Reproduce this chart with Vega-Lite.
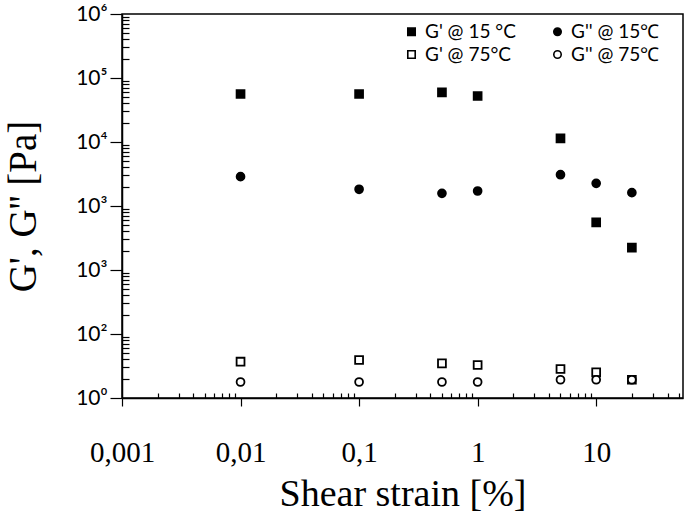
{
  "$schema": "https://vega.github.io/schema/vega-lite/v6.json",
  "width": 561,
  "height": 384,
  "autosize": {"type": "none"},
  "padding": {"left": 122, "top": 14, "right": 2, "bottom": 121},
  "background": "white",
  "config": {
    "view": {"stroke": "black", "strokeWidth": 1.5},
    "axis": {"domainColor": "black", "domainWidth": 1.5, "tickColor": "black", "tickWidth": 1.2, "grid": false, "labelColor": "black", "titleColor": "black"},
    "legend": {
      "title": null, "orient": "none", "legendX": 280, "legendY": 8, "columns": 2, "direction": "horizontal",
      "columnPadding": 32, "rowPadding": 3, "labelFont": "Lato", "labelFontSize": 19, "labelColor": "black",
      "symbolSize": 55, "symbolStrokeColor": "black", "symbolStrokeWidth": 1.6, "labelOffset": 4
    }
  },
  "data": {
    "values": [
      {"strain": 0.01, "G": 56200, "series": "G' @ 15 °C"},
      {"strain": 0.1, "G": 56200, "series": "G' @ 15 °C"},
      {"strain": 0.5, "G": 59800, "series": "G' @ 15 °C"},
      {"strain": 1, "G": 52300, "series": "G' @ 15 °C"},
      {"strain": 5, "G": 11400, "series": "G' @ 15 °C"},
      {"strain": 10, "G": 556, "series": "G' @ 15 °C"},
      {"strain": 20, "G": 223, "series": "G' @ 15 °C"},
      {"strain": 0.01, "G": 2870, "series": "G'' @ 15℃"},
      {"strain": 0.1, "G": 1824, "series": "G'' @ 15℃"},
      {"strain": 0.5, "G": 1578, "series": "G'' @ 15℃"},
      {"strain": 1, "G": 1715, "series": "G'' @ 15℃"},
      {"strain": 5, "G": 3083, "series": "G'' @ 15℃"},
      {"strain": 10, "G": 2263, "series": "G'' @ 15℃"},
      {"strain": 20, "G": 1614, "series": "G'' @ 15℃"},
      {"strain": 0.01, "G": 3.69, "series": "G' @ 75°C"},
      {"strain": 0.1, "G": 3.92, "series": "G' @ 75°C"},
      {"strain": 0.5, "G": 3.48, "series": "G' @ 75°C"},
      {"strain": 1, "G": 3.28, "series": "G' @ 75°C"},
      {"strain": 5, "G": 2.84, "series": "G' @ 75°C"},
      {"strain": 10, "G": 2.52, "series": "G' @ 75°C"},
      {"strain": 20, "G": 1.93, "series": "G' @ 75°C"},
      {"strain": 0.01, "G": 1.78, "series": "G'' @ 75℃"},
      {"strain": 0.1, "G": 1.78, "series": "G'' @ 75℃"},
      {"strain": 0.5, "G": 1.78, "series": "G'' @ 75℃"},
      {"strain": 1, "G": 1.78, "series": "G'' @ 75℃"},
      {"strain": 5, "G": 1.93, "series": "G'' @ 75℃"},
      {"strain": 10, "G": 1.93, "series": "G'' @ 75℃"},
      {"strain": 20, "G": 1.93, "series": "G'' @ 75℃"}
    ]
  },
  "mark": {"type": "point", "filled": false, "strokeWidth": 1.8, "size": 62, "opacity": 1},
  "encoding": {
    "x": {
      "field": "strain", "type": "quantitative",
      "scale": {"type": "log", "domain": [0.001, 54], "nice": false},
      "axis": {
        "title": "Shear strain [%]",
        "values": [0.001, 0.002, 0.003, 0.004, 0.005, 0.006, 0.007, 0.008, 0.009, 0.01, 0.02, 0.03, 0.04, 0.05, 0.06, 0.07, 0.08, 0.09, 0.1, 0.2, 0.3, 0.4, 0.5, 0.6, 0.7, 0.8, 0.9, 1, 2, 3, 4, 5, 6, 7, 8, 9, 10, 20, 30, 40, 50],
        "tickSize": {"condition": {"test": "indexof([0.001, 0.01, 0.1, 1, 10], datum.value) >= 0", "value": 8}, "value": -5},
        "labelExpr": "datum.value == 0.001 ? '0,001' : datum.value == 0.01 ? '0,01' : datum.value == 0.1 ? '0,1' : datum.value == 1 ? '1' : datum.value == 10 ? '10' : ''",
        "labelFont": "Liberation Serif", "labelFontSize": 29, "labelPadding": 32,
        "labelOverlap": false, "labelBound": false, "labelFlush": false,
        "titleFont": "Liberation Serif", "titleFontSize": 38, "titleFontWeight": "normal", "titlePadding": 8
      }
    },
    "y": {
      "field": "G", "type": "quantitative",
      "scale": {"type": "log", "domain": [1, 1000000], "nice": false},
      "axis": {
        "title": "G', G''  [Pa]",
        "values": [1, 2, 3, 4, 5, 6, 7, 8, 9, 10, 20, 30, 40, 50, 60, 70, 80, 90, 100, 200, 300, 400, 500, 600, 700, 800, 900, 1000, 2000, 3000, 4000, 5000, 6000, 7000, 8000, 9000, 10000, 20000, 30000, 40000, 50000, 60000, 70000, 80000, 90000, 100000, 200000, 300000, 400000, 500000, 600000, 700000, 800000, 900000, 1000000],
        "tickSize": {"condition": {"test": "indexof([1, 10, 100, 1000, 10000, 100000, 1000000], datum.value) >= 0", "value": 12}, "value": -7},
        "labelExpr": "datum.value == 1000000 ? '10⁶' : datum.value == 100000 ? '10⁵' : datum.value == 10000 ? '10⁴' : datum.value == 1000 ? '10³' : datum.value == 100 ? '10³' : datum.value == 10 ? '10²' : datum.value == 1 ? '10⁰' : ''",
        "labelFont": "Lato", "labelFontSize": 21, "labelPadding": 3,
        "labelOverlap": false, "labelBound": false, "labelFlush": false,
        "titleFont": "Liberation Serif", "titleFontSize": 39, "titleFontWeight": "normal", "titlePadding": 32
      }
    },
    "shape": {
      "field": "series", "type": "nominal",
      "sort": ["G' @ 15 °C", "G'' @ 15℃", "G' @ 75°C", "G'' @ 75℃"],
      "scale": {"domain": ["G' @ 15 °C", "G'' @ 15℃", "G' @ 75°C", "G'' @ 75℃"], "range": ["square", "circle", "square", "circle"]},
      "legend": {"values": ["G' @ 15 °C", "G'' @ 15℃", "G' @ 75°C", "G'' @ 75℃"]}
    },
    "fill": {
      "field": "series", "type": "nominal",
      "sort": ["G' @ 15 °C", "G'' @ 15℃", "G' @ 75°C", "G'' @ 75℃"],
      "scale": {"domain": ["G' @ 15 °C", "G'' @ 15℃", "G' @ 75°C", "G'' @ 75℃"], "range": ["black", "black", "white", "white"]},
      "legend": {"values": ["G' @ 15 °C", "G'' @ 15℃", "G' @ 75°C", "G'' @ 75℃"]}
    },
    "stroke": {
      "field": "series", "type": "nominal",
      "sort": ["G' @ 15 °C", "G'' @ 15℃", "G' @ 75°C", "G'' @ 75℃"],
      "scale": {"domain": ["G' @ 15 °C", "G'' @ 15℃", "G' @ 75°C", "G'' @ 75℃"], "range": ["black", "black", "black", "black"]},
      "legend": {"values": ["G' @ 15 °C", "G'' @ 15℃", "G' @ 75°C", "G'' @ 75℃"]}
    }
  }
}
